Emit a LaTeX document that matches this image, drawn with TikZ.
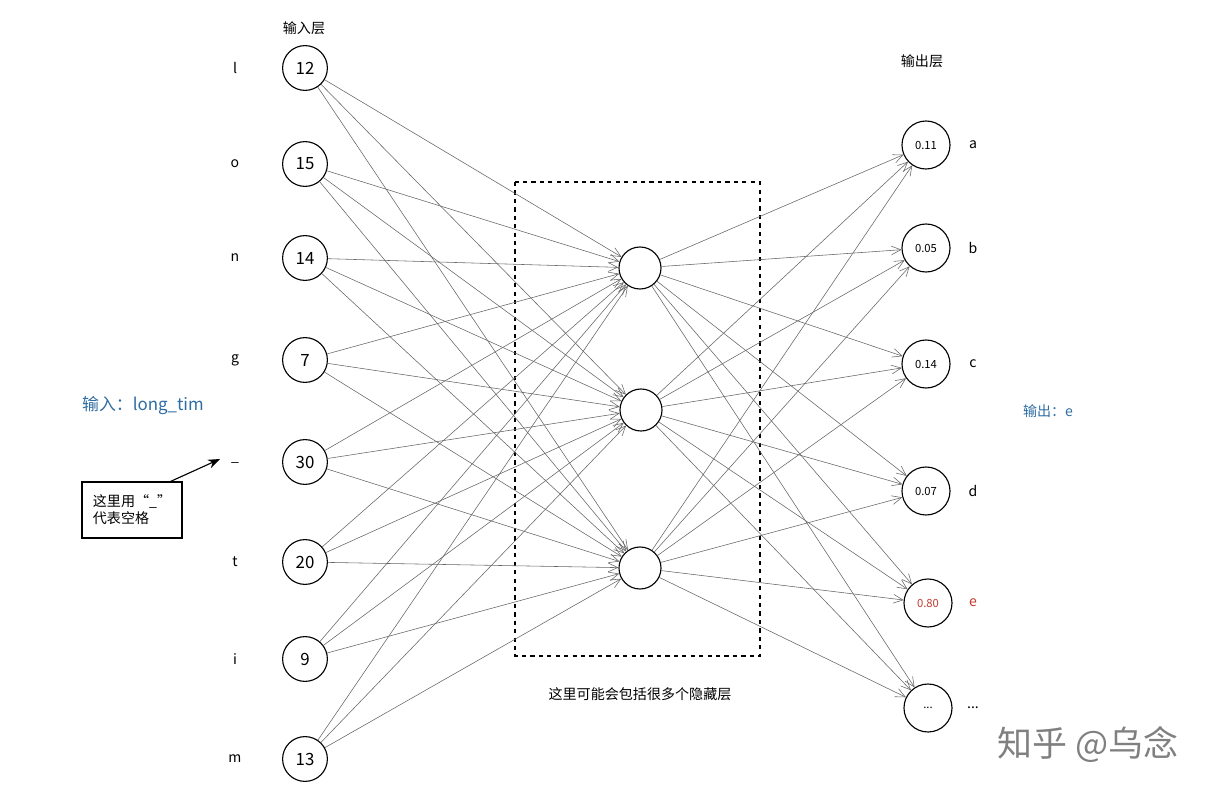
\documentclass[tikz,border=0pt]{standalone}
\usepackage{fontspec}
\usetikzlibrary{arrows.meta}
\newfontfamily\cjk{Noto Sans CJK SC}
\definecolor{noteblue}{HTML}{2E6DA4}
\definecolor{outred}{HTML}{C0392B}
\begin{document}
\begin{tikzpicture}[x=0.025cm, y=-0.025cm, font=\cjk,
    neuron/.style={draw, thick, circle, minimum size=1.12cm, inner sep=0pt, font=\cjk\large},
    outneuron/.style={draw, thick, circle, minimum size=1.2cm, inner sep=0pt, font=\cjk\footnotesize},
    link/.style={gray!80!black, thin, -{Straight Barb[length=2.4mm, width=2.2mm]}}]
  \useasboundingbox (0,0) rectangle (1213,795);

  % input layer
  \node at (304, 28) {输入层};
  \foreach \n/\y/\val/\ch in {1/68/12/l, 2/164/15/o, 3/258/14/n, 4/360/7/g,
                              5/462/30/\_, 6/562/20/t, 7/659/9/i, 8/759/13/m} {
    \node[neuron] (in\n) at (305, \y) {\val};
    \node (ch\n) at (235, \y) {\ch};
  }

  % hidden layer
  \draw[thick, dashed] (515, 182) rectangle (760, 656);
  \node[neuron, minimum size=1.05cm] (hid1) at (640, 268) {};
  \node[neuron, minimum size=1.05cm] (hid2) at (641, 410) {};
  \node[neuron, minimum size=1.05cm] (hid3) at (640, 568) {};
  \node (cap) at (640, 694) {这里可能会包括很多个隐藏层};

  % output layer
  \node at (922, 61) {输出层};
  \foreach \n/\y/\val/\ch in {1/145/0.11/a, 2/248/0.05/b, 3/364/0.14/c, 4/491/0.07/d} {
    \node[outneuron] (out\n) at (926, \y) {\val};
    \node (lb\n) at (973, \y) {\ch};
  }
  \node[outneuron, text=outred] (out5) at (928, 603) {0.80};
  \node[text=outred] (lb5) at (973, 603) {e};
  \node[outneuron] (out6) at (928, 708) {...};
  \node (lb6) at (973, 708) {...};

  % connections
  \foreach \i in {1,2,3,4,5,6,7,8}
    \foreach \j in {1,2,3}
      \draw[link] (in\i) -- (hid\j);
  \foreach \j in {1,2,3}
    \foreach \k in {1,2,3,4,5,6}
      \draw[link] (hid\j) -- (out\k);

  % notes
  \node[text=noteblue, font=\cjk\large] (inp) at (143, 405) {输入：long\_tim};
  \node[text=noteblue] (outp) at (1048, 411) {输出：e};
  \node[draw, thick, align=left, minimum width=2.5cm, minimum height=1.4cm] (note) at (132, 510)
    {这里用“\_”\\代表空格};
  \coordinate (spc) at (220, 459);
  \draw[thick, -{Stealth[length=3mm]}] ([xshift=-0.3cm]note.north east) -- (spc);

  \node[gray, font=\cjk\Huge] (mark) at (1088, 745) {知乎 @乌念};
\end{tikzpicture}
\end{document}
